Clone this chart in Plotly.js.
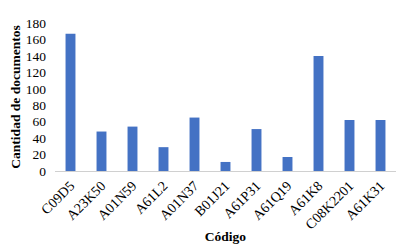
<!DOCTYPE html>
<html>
<head>
<meta charset="utf-8">
<script src="https://cdn.plot.ly/plotly-3.0.1.min.js"></script>
<style>html,body{margin:0;padding:0;background:#fff;}#chart{width:405px;height:248px;}</style>
</head>
<body>
<div id="chart"></div>
<script>
const codes = ["C09D5","A23K50","A01N59","A61L2","A01N37","B01J21","A61P31","A61Q19","A61K8","C08K2201","A61K31"];
const counts = [167, 48, 54, 29, 65, 11, 51, 17, 140, 62, 62];
const yTicks = [0,20,40,60,80,100,120,140,160,180];

const fam = "Liberation Serif, Times New Roman, serif";

Plotly.newPlot("chart", [{
  type: "bar",
  x: codes,
  y: counts,
  marker: {color: "#4472C4"},
  hoverinfo: "none"
}], {
  width: 405, height: 248,
  margin: {l: 55, r: 9, t: 23, b: 77},
  paper_bgcolor: "#fff", plot_bgcolor: "#fff",
  bargap: 0.68,
  font: {family: fam, size: 13, color: "#000"},
  showlegend: false,
  xaxis: {
    type: "category",
    tickangle: -45,
    tickfont: {family: fam, size: 14, color: "#000"},
    showline: true, linecolor: "#d0d0d0", linewidth: 1,
    showgrid: false, ticks: "",
    title: {text: "<b>Código</b>", font: {family: fam, size: 13.5, color: "#000"}, standoff: 0}
  },
  yaxis: {
    range: [0, 180],
    tickvals: yTicks,
    tickfont: {family: fam, size: 13.5, color: "#000"},
    showgrid: false, zeroline: false, showline: false, ticks: "",
    ticklabelstandoff: 8,
    title: {text: "<b>Cantidad de documentos</b>", font: {family: fam, size: 13.5, color: "#000"}, standoff: 2}
  }
}, {displayModeBar: false, staticPlot: true});
</script>
</body>
</html>
